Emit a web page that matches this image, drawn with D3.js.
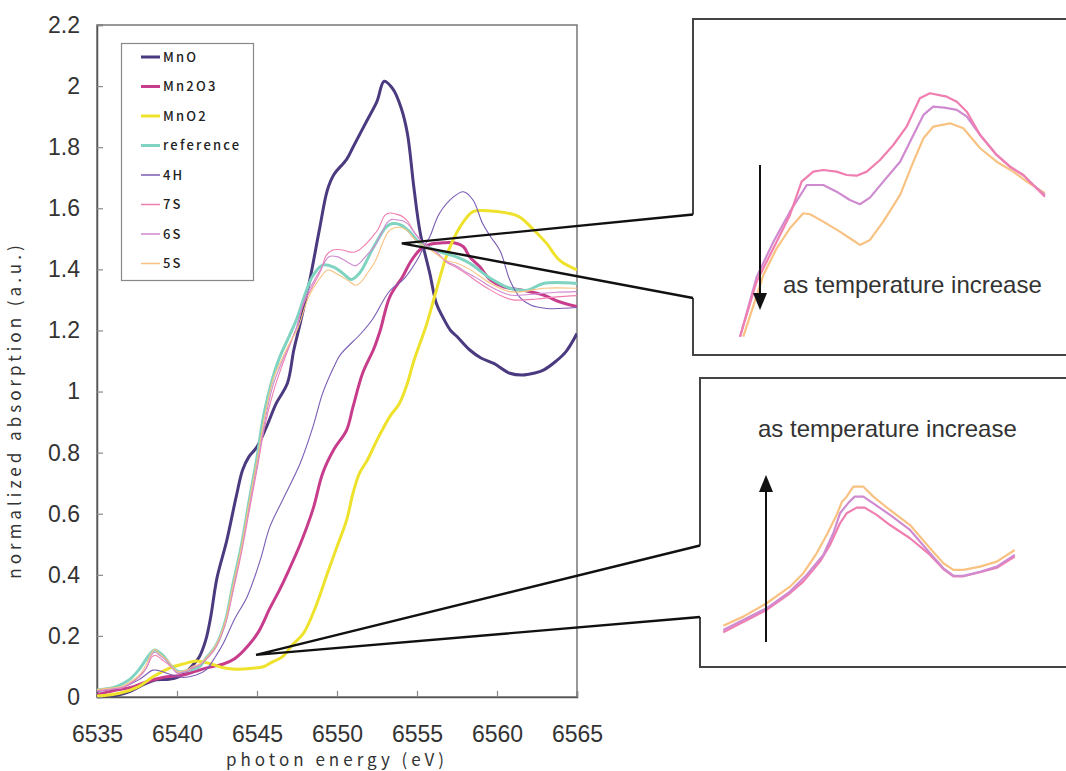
<!DOCTYPE html>
<html><head><meta charset="utf-8">
<script src="https://cdn.jsdelivr.net/npm/d3@7"></script>
<style>body{margin:0;background:#fff}svg{display:block}</style>
</head><body><svg id="c" width="1066" height="771"></svg>
<script>
// ---------- DATA ----------
const seriesNames = ["MnO","Mn2O3","MnO2","reference","4H","7S","6S","5S"];
const seriesColors = ["#4b3a7f","#c83c8c","#eee22c","#7fd3c1","#7a5cb4","#f07eb0","#cf8ad0","#f8c282"];
const seriesWidths = [3,3,3,3,1.1,1.1,1.1,1.1];

const mnoE = [6535,6536,6537,6538,6538.7,6539.5,6540.1,6540.6,6541.0,6541.4,6541.8,6542.1,6542.5,6543.1,6543.7,6544.1,6544.5,6545.0,6545.6,6546.2,6546.9,6547.3,6547.7,6548.3,6548.9,6549.4,6549.8,6550.6,6551.0,6551.9,6552.5,6552.95,6553.5,6554.0,6554.4,6554.8,6555.2,6555.8,6556.2,6556.6,6557.1,6557.5,6558.3,6559.0,6559.8,6560.8,6561.6,6562.3,6562.9,6563.7,6564.3,6565];
const mnoV = [0.0,0.003,0.017,0.043,0.056,0.058,0.066,0.083,0.105,0.132,0.187,0.26,0.39,0.51,0.656,0.743,0.787,0.819,0.885,0.961,1.027,1.136,1.223,1.365,1.53,1.66,1.71,1.76,1.80,1.89,1.95,2.016,1.99,1.93,1.845,1.67,1.52,1.387,1.29,1.245,1.20,1.18,1.136,1.11,1.092,1.06,1.054,1.06,1.07,1.10,1.13,1.19];

const mn2o3E = [6535,6536,6537.3,6538.1,6539.1,6540.4,6541.2,6542.0,6542.9,6543.6,6544.4,6545.1,6545.8,6546.4,6546.9,6547.7,6548.5,6549.1,6549.8,6550.6,6551.0,6551.6,6552.3,6552.7,6553.3,6554.1,6554.6,6555.2,6555.8,6556.6,6557.3,6557.9,6558.3,6558.9,6559.6,6560.4,6561.6,6562.9,6563.9,6565];
const mn2o3V = [0.008,0.02,0.034,0.05,0.064,0.072,0.085,0.097,0.108,0.125,0.165,0.214,0.29,0.35,0.405,0.50,0.615,0.732,0.81,0.874,0.95,1.06,1.14,1.20,1.31,1.376,1.425,1.465,1.482,1.487,1.487,1.474,1.44,1.41,1.365,1.343,1.332,1.316,1.294,1.278];

const mno2E = [6535,6536.4,6537.6,6538.5,6539.5,6540.4,6541.2,6542.0,6542.9,6543.7,6544.7,6545.4,6546.0,6546.6,6547.2,6547.9,6548.7,6549.4,6550.0,6550.6,6551.0,6551.4,6551.9,6552.5,6553.3,6553.9,6554.4,6554.8,6555.6,6556.2,6556.9,6557.7,6558.5,6559.4,6560.6,6561.4,6562.3,6563.1,6563.9,6565];
const mno2V = [0.003,0.012,0.034,0.066,0.094,0.108,0.118,0.11,0.096,0.091,0.094,0.099,0.116,0.132,0.17,0.208,0.30,0.405,0.492,0.579,0.667,0.732,0.776,0.841,0.918,0.961,1.027,1.10,1.22,1.33,1.452,1.54,1.589,1.592,1.585,1.572,1.529,1.485,1.43,1.398];

const refE = [6535,6536.2,6537.0,6537.6,6538.3,6538.6,6539.1,6539.7,6540.1,6540.8,6541.4,6541.8,6542.4,6543.0,6543.5,6544.0,6544.5,6545.0,6545.4,6546.0,6546.4,6547.0,6547.5,6548.1,6548.5,6549.1,6549.8,6550.3,6550.9,6551.4,6552.3,6553.1,6553.5,6554.0,6554.5,6555.2,6555.8,6556.4,6557.5,6558.3,6559.6,6560.8,6561.9,6562.9,6565];
const refV = [0.023,0.034,0.056,0.088,0.14,0.154,0.137,0.099,0.083,0.088,0.099,0.126,0.165,0.245,0.37,0.49,0.64,0.785,0.917,1.048,1.11,1.18,1.24,1.332,1.38,1.414,1.407,1.39,1.367,1.387,1.474,1.54,1.55,1.545,1.525,1.485,1.47,1.458,1.44,1.42,1.37,1.338,1.332,1.354,1.354];

const h4E = [6535,6536.6,6537.6,6538.5,6538.9,6539.7,6540.4,6541.2,6541.8,6542.4,6542.9,6543.6,6544.4,6545.2,6545.8,6546.6,6547.7,6548.5,6549.1,6549.8,6550.2,6551.5,6552.2,6553.3,6554.2,6555.0,6555.5,6555.8,6556.4,6557.3,6557.9,6558.5,6559.1,6559.6,6560.2,6560.8,6561.4,6562.1,6563.1,6565];
const h4V = [0.018,0.032,0.056,0.088,0.086,0.072,0.064,0.072,0.088,0.132,0.176,0.255,0.33,0.448,0.557,0.645,0.765,0.885,0.994,1.08,1.12,1.19,1.235,1.33,1.37,1.43,1.48,1.507,1.583,1.638,1.654,1.627,1.55,1.507,1.46,1.365,1.31,1.283,1.272,1.275];

const s7E = [6535,6535.8,6536.2,6536.58,6537.23,6537.58,6537.78,6538.03,6538.18,6538.33,6538.43,6538.58,6538.7,6538.88,6539.08,6539.38,6539.68,6539.88,6540.03,6540.18,6540.43,6540.68,6540.95,6541.4,6541.8,6542.4,6543.0,6543.5,6544.0,6544.5,6545.0,6545.5,6546.0,6546.5,6547.0,6547.44,6547.95,6548.47,6548.98,6549.34,6549.7,6550.01,6550.42,6550.73,6551.04,6551.35,6551.76,6552.17,6552.58,6552.99,6553.3,6553.82,6554.13,6554.44,6554.85,6555.36,6555.77,6556.18,6556.49,6556.85,6557.5,6558.1,6558.7,6559.6,6560.4,6561.0,6562.5,6563.7,6565];
const s7V = [0.02,0.024,0.027,0.0299,0.0489,0.0631,0.073,0.0901,0.1043,0.1228,0.1313,0.1361,0.1361,0.1299,0.1213,0.11,0.0958,0.0838,0.0776,0.0776,0.081,0.0849,0.0943,0.104,0.122,0.16,0.235,0.345,0.465,0.605,0.745,0.89,0.995,1.075,1.145,1.2053,1.291,1.343,1.395,1.4468,1.4624,1.465,1.4624,1.4572,1.4561,1.4624,1.4806,1.5039,1.5324,1.5767,1.5845,1.5792,1.5714,1.5558,1.5195,1.4884,1.4701,1.4572,1.4416,1.4234,1.405,1.385,1.362,1.332,1.31,1.30,1.303,1.31,1.314];

const s6E = [6535,6535.8,6536.2,6536.58,6537.23,6537.58,6537.83,6538.08,6538.23,6538.33,6538.45,6538.55,6538.68,6538.83,6539.08,6539.38,6539.68,6539.88,6540.03,6540.18,6540.43,6540.68,6540.95,6541.4,6541.8,6542.4,6543.0,6543.5,6544.0,6544.5,6545.0,6545.5,6546.0,6546.5,6547.0,6547.44,6547.95,6548.47,6548.98,6549.5,6550.01,6550.42,6550.83,6551.14,6551.45,6551.86,6552.38,6552.79,6553.1,6553.4,6553.75,6554.13,6554.44,6554.85,6555.36,6555.77,6556.18,6556.49,6556.85,6557.5,6558.1,6558.7,6559.6,6560.8,6561.6,6562.5,6563.7,6565];
const s6V = [0.022,0.026,0.029,0.0318,0.0503,0.0645,0.0787,0.0958,0.1143,0.1313,0.1398,0.1455,0.1455,0.1398,0.1299,0.1171,0.0972,0.0844,0.0781,0.0779,0.0815,0.0858,0.0958,0.105,0.124,0.163,0.24,0.355,0.475,0.62,0.76,0.905,1.02,1.09,1.15,1.2053,1.298,1.3533,1.40,1.4416,1.4416,1.4312,1.4183,1.4116,1.4219,1.4468,1.4779,1.5195,1.5507,1.5636,1.562,1.5585,1.548,1.5195,1.4884,1.4701,1.4572,1.4416,1.426,1.41,1.39,1.373,1.343,1.316,1.316,1.32,1.325,1.327];

const s5E = [6535,6535.8,6536.2,6536.58,6536.88,6537.23,6537.58,6537.78,6537.98,6538.13,6538.28,6538.36,6538.43,6538.53,6538.68,6538.83,6539.08,6539.38,6539.68,6539.88,6540.03,6540.18,6540.43,6540.68,6540.95,6541.4,6541.8,6542.4,6543.0,6543.5,6544.0,6544.5,6545.0,6545.5,6546.0,6546.5,6547.0,6547.54,6548.16,6548.57,6548.98,6549.39,6549.6,6550.01,6550.52,6550.83,6551.14,6551.45,6551.86,6552.38,6552.79,6553.1,6553.4,6553.92,6554.33,6554.85,6555.36,6555.87,6556.29,6556.85,6557.5,6558.3,6559.6,6560.8,6561.6,6562.9,6565];
const s5V = [0.024,0.029,0.032,0.0355,0.0432,0.0546,0.0687,0.0802,0.0972,0.1128,0.1299,0.1412,0.1455,0.154,0.154,0.1455,0.1341,0.1213,0.1015,0.0887,0.083,0.083,0.0858,0.0901,0.1,0.108,0.127,0.166,0.245,0.365,0.485,0.635,0.775,0.925,1.04,1.1,1.155,1.2053,1.3014,1.343,1.3742,1.3976,1.396,1.3845,1.3689,1.3586,1.3482,1.356,1.3845,1.4261,1.4779,1.5144,1.5324,1.5377,1.53,1.4988,1.4779,1.4624,1.4468,1.4287,1.42,1.40,1.354,1.327,1.327,1.338,1.338];

const seriesE = [mnoE,mn2o3E,mno2E,refE,h4E,s7E,s6E,s5E];
const seriesV = [mnoV,mn2o3V,mno2V,refV,h4V,s7V,s6V,s5V];

const xTicks = [6535,6540,6545,6550,6555,6560,6565];
const xTickLabels = ["6535","6540","6545","6550","6555","6560","6565"];
const yTicks = [0,0.2,0.4,0.6,0.8,1,1.2,1.4,1.6,1.8,2,2.2];
const yTickLabels = ["0","0.2","0.4","0.6","0.8","1","1.2","1.4","1.6","1.8","2","2.2"];
const xTitle = "photon energy (eV)";
const yTitle = "normalized absorption (a.u.)";

// inset views (magnified regions of the same data)
const insetTopRange = [6547.44, 6556.85];
const insetBottomRange = [6536.58, 6540.95];
const insetTopAnchor = [6554.05, 1.485];     // callout apex (data units)
const insetBottomAnchor = [6544.94, 0.138];
const insetText = "as temperature increase";

// ---------- DRAW ----------
const svg = d3.select("#c");
const x = d3.scaleLinear().domain([6535,6565]).range([97,577]);
const y = d3.scaleLinear().domain([0,2.2]).range([697,25]);

svg.append("defs").append("clipPath").attr("id","pc")
  .append("rect").attr("x",97).attr("y",25).attr("width",480).attr("height",672);

const data = seriesNames.map((n,i)=>({name:n,color:seriesColors[i],w:seriesWidths[i],
  pts:seriesE[i].map((e,j)=>[e,seriesV[i][j]])}));

// frame
svg.append("rect").attr("x",97).attr("y",25).attr("width",480).attr("height",672)
  .attr("fill","none").attr("stroke","#777").attr("stroke-width",1.5);

const gx = svg.append("g").attr("transform","translate(0,697)")
  .call(d3.axisBottom(x).tickValues(xTicks).tickSize(-6).tickPadding(29)
    .tickFormat((d,i)=>xTickLabels[i]));
const gy = svg.append("g").attr("transform","translate(97,0)")
  .call(d3.axisLeft(y).tickValues(yTicks).tickSize(-6).tickPadding(17)
    .tickFormat((d,i)=>yTickLabels[i]));
[gx,gy].forEach(g=>{
  g.select(".domain").attr("stroke","#555").attr("stroke-width",1.5);
  g.selectAll(".tick line").attr("stroke","#888").attr("stroke-width",1.2);
  g.selectAll(".tick text").attr("font-family","'Liberation Sans',Arial,sans-serif")
    .attr("font-size",23).attr("fill","#333");
});

svg.append("text").attr("x",337).attr("y",766).attr("text-anchor","middle")
  .attr("font-family","'Noto Sans CJK JP',sans-serif").attr("font-size",17)
  .attr("letter-spacing",4).attr("fill","#333").text(xTitle);
svg.append("text").attr("transform","translate(21,410) rotate(-90)").attr("text-anchor","middle")
  .attr("font-family","'Noto Sans CJK JP',sans-serif").attr("font-size",17)
  .attr("letter-spacing",4).attr("fill","#333").text(yTitle);

const line = d3.line().x(d=>x(d[0])).y(d=>y(d[1])).curve(d3.curveCatmullRom.alpha(0.5));
svg.append("g").attr("clip-path","url(#pc)").selectAll("path").data(data).join("path")
  .attr("d",d=>line(d.pts)).attr("fill","none").attr("stroke",d=>d.color)
  .attr("stroke-width",d=>d.w).attr("stroke-linejoin","round");

// legend
svg.append("rect").attr("x",121.5).attr("y",43.5).attr("width",132).attr("height",237)
  .attr("fill","#fff").attr("stroke","#888").attr("stroke-width",1.2);
const lg = svg.append("g").selectAll("g").data(data).join("g")
  .attr("transform",(d,i)=>`translate(0,${57+i*29.5})`);
lg.append("line").attr("x1",141).attr("x2",160).attr("stroke",d=>d.color)
  .attr("stroke-width",(d,i)=>i<4?3:1.5);
lg.append("text").attr("x",163).attr("dy","0.36em").attr("font-family","'Noto Sans CJK JP',sans-serif")
  .attr("font-size",13).attr("font-weight",500).attr("letter-spacing",2.2).attr("fill","#222").text(d=>d.name);

// ---------- insets ----------
function inset(cfg){
  const ix = d3.scaleLinear().domain(cfg.xd).range(cfg.xr);
  const iy = d3.scaleLinear().domain(cfg.yd).range(cfg.yr);
  const il = d3.line().x(d=>ix(d[0])).y(d=>iy(d[1]));
  const ord = cfg.order.map(n=>data.find(d=>d.name===n));
  svg.append("g").selectAll("path").data(ord).join("path")
    .attr("d",d=>il(d.pts.filter(p=>p[0]>=cfg.range[0]-1e-6&&p[0]<=cfg.range[1]+1e-6)))
    .attr("fill","none").attr("stroke",d=>d.color).attr("stroke-width",2.2)
    .attr("stroke-linejoin","round");
  const b = cfg.box;
  svg.append("path").attr("d",`M1070,${b.top}H${b.left}V${b.gap[0]}M${b.left},${b.gap[1]}V${b.bottom}H1070`)
    .attr("fill","none").attr("stroke","#444").attr("stroke-width",2);
  const ax = x(cfg.anchor[0]), ay = y(cfg.anchor[1]);
  svg.append("path").attr("d",`M${b.left},${b.gap[0]}L${ax},${ay}L${b.left},${b.gap[1]}`)
    .attr("fill","none").attr("stroke","#111").attr("stroke-width",2.4).attr("stroke-linejoin","miter");
  const a = cfg.arrow;
  svg.append("line").attr("x1",a.x).attr("x2",a.x).attr("y1",a.from).attr("y2",a.to+(a.to>a.from?-12:12))
    .attr("stroke","#111").attr("stroke-width",2);
  const dir = a.to>a.from?1:-1;
  svg.append("path").attr("d",`M${a.x},${a.to}L${a.x-7},${a.to-dir*17}L${a.x+7},${a.to-dir*17}Z`).attr("fill","#111");
  svg.append("text").attr("x",cfg.text[0]).attr("y",cfg.text[1])
    .attr("font-family","'Liberation Sans',Arial,sans-serif").attr("font-size",24)
    .attr("fill","#333").text(insetText);
}
inset({xd:[6547,6557],xr:[725.8,1049.8],yd:[1.2,1.6],yr:[340.1,83.3],range:insetTopRange,
  order:["5S","6S","7S"],box:{left:693,top:19,bottom:355,gap:[214.5,298]},anchor:insetTopAnchor,
  arrow:{x:760,from:165,to:310},text:[783,293]});
inset({xd:[6536.5,6541],xr:[717.9,1018.1],yd:[0,0.2],yr:[667.3,432.7],range:insetBottomRange,
  order:["7S","6S","5S"],box:{left:700,top:378,bottom:667,gap:[545.5,617]},anchor:insetBottomAnchor,
  arrow:{x:766,from:642,to:475},text:[758,437]});
</script></body></html>
